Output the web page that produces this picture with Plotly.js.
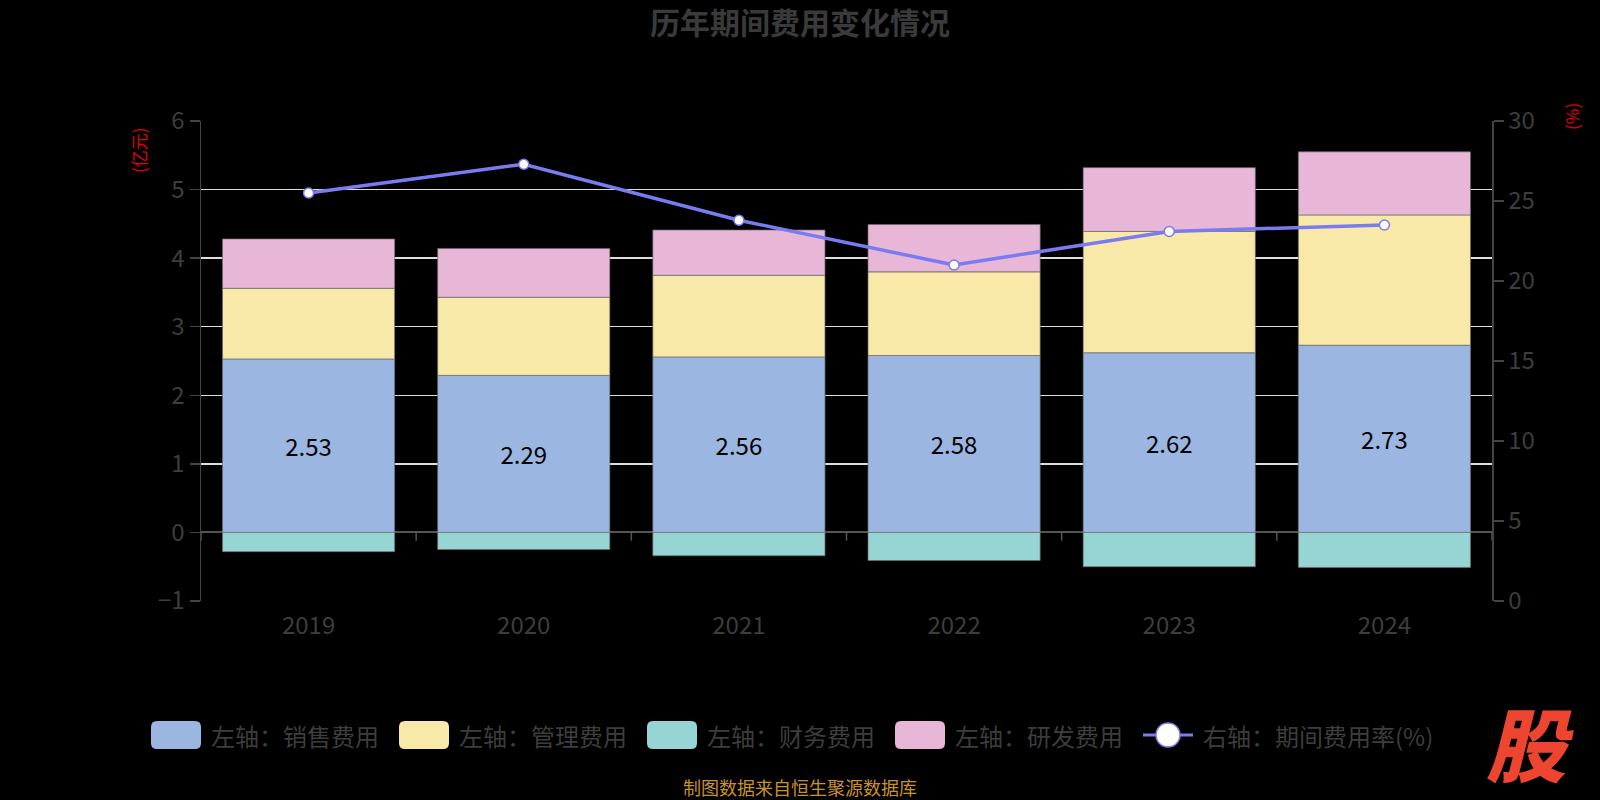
<!DOCTYPE html>
<html>
<head>
<meta charset="utf-8">
<script src="https://cdn.plot.ly/plotly-3.0.1.min.js"></script>
<style>html,body{margin:0;padding:0;background:#000;}#chart{width:1600px;height:800px;}</style>
</head>
<body>
<div id="chart"></div>
<script>
// ---- data ----
const years = ['2019', '2020', '2021', '2022', '2023', '2024'];
const salesExp = [2.53, 2.29, 2.56, 2.58, 2.62, 2.73];
const adminExp = [1.03, 1.14, 1.19, 1.22, 1.77, 1.90];
const financeExp = [-0.28, -0.25, -0.34, -0.41, -0.50, -0.51];
const rdExp = [0.72, 0.71, 0.66, 0.69, 0.93, 0.92];
const expenseRate = [25.5, 27.3, 23.8, 21.0, 23.1, 23.5];
const seriesNames = ['左轴：销售费用', '左轴：管理费用', '左轴：财务费用', '左轴：研发费用', '右轴：期间费用率(%)'];
const leftTicks = [-1, 0, 1, 2, 3, 4, 5, 6];
const rightTicks = [0, 5, 10, 15, 20, 25, 30];

// ---- styles ----
const FONT = '"Noto Sans CJK SC", "Noto Sans", sans-serif';
const colors = ['#9bb7e1', '#f9e9a8', '#97d4d4', '#e8b7d8'];
const lineColor = '#787cf0';
const tickColor = '#3d3d3d';
const barLine = {width: 1, color: 'rgba(110,110,110,0.7)'};

const L = 201, R = 1492, T = 121, B = 601;
const W = R - L, H = B - T;
const px2x = p => (p - L) / W;
const px2y = p => (B - p) / H;

const traces = [
  {type: 'bar', x: years, y: salesExp, name: seriesNames[0], marker: {color: colors[0], line: barLine},
   texttemplate: '%{y:.2f}', textposition: 'inside', insidetextanchor: 'middle', constraintext: 'none',
   textfont: {size: 24, color: '#000', family: FONT}, hoverinfo: 'y'},
  {type: 'bar', x: years, y: adminExp, name: seriesNames[1], marker: {color: colors[1], line: barLine}, textposition: 'none'},
  {type: 'bar', x: years, y: financeExp, name: seriesNames[2], marker: {color: colors[2], line: barLine}, textposition: 'none'},
  {type: 'bar', x: years, y: rdExp, name: seriesNames[3], marker: {color: colors[3], line: barLine}, textposition: 'none'},
  {type: 'scatter', mode: 'lines+markers', x: years, y: expenseRate, name: seriesNames[4], yaxis: 'y2',
   line: {color: lineColor, width: 3.5}, marker: {size: 10, color: '#fff', line: {color: lineColor, width: 1.5}}}
];

// ---- legend drawn as shapes + annotations ----
const shapes = [];
const annotations = [];
function rrect(x0, y0, x1, y1, r, fill) {
  const a = px2x(x0), b = px2x(x1), top = px2y(y0), bot = px2y(y1);
  const rx = r / W, ry = r / H;
  const p = `M ${a + rx},${bot} L ${b - rx},${bot} Q ${b},${bot} ${b},${bot + ry} L ${b},${top - ry} Q ${b},${top} ${b - rx},${top} L ${a + rx},${top} Q ${a},${top} ${a},${top - ry} L ${a},${bot + ry} Q ${a},${bot} ${a + rx},${bot} Z`;
  return {type: 'path', xref: 'paper', yref: 'paper', path: p, fillcolor: fill, line: {width: 0}};
}
const legY = 735;
seriesNames.forEach((nm, i) => {
  const x0 = 151 + i * 248;
  if (i < 4) {
    shapes.push(rrect(x0, legY - 14, x0 + 50, legY + 14, 6, colors[i]));
  } else {
    shapes.push({type: 'line', xref: 'paper', yref: 'paper', x0: px2x(x0), x1: px2x(x0 + 50), y0: px2y(legY), y1: px2y(legY), line: {color: lineColor, width: 3}});
    shapes.push({type: 'circle', xref: 'paper', yref: 'paper', x0: px2x(x0 + 13), x1: px2x(x0 + 37), y0: px2y(legY + 12), y1: px2y(legY - 12), fillcolor: '#fff', line: {color: lineColor, width: 1.5}});
  }
  annotations.push({xref: 'paper', yref: 'paper', x: px2x(x0 + 58), y: px2y(legY), xanchor: 'left', yanchor: 'middle',
    text: nm, showarrow: false, font: {size: 24, color: tickColor, family: FONT}});
});

// category boundary ticks on the zero line
for (let i = 0; i <= years.length; i++) {
  shapes.push({type: 'line', xref: 'x', yref: 'y', x0: i - 0.5, x1: i - 0.5, y0: 0, y1: -0.12, line: {color: '#555', width: 1.5}, layer: 'below'});
}

// axis names
annotations.push({xref: 'paper', yref: 'paper', x: px2x(138), y: px2y(150), text: '(亿元)', textangle: -90, showarrow: false,
  xanchor: 'center', yanchor: 'middle', font: {size: 17, color: '#e00000', family: FONT}});
annotations.push({xref: 'paper', yref: 'paper', x: px2x(1571), y: px2y(117), text: '(%)', textangle: -90, showarrow: false,
  xanchor: 'center', yanchor: 'middle', font: {size: 17, color: '#e00000', family: FONT}});
// footer
annotations.push({xref: 'paper', yref: 'paper', x: px2x(800), y: px2y(787), text: '制图数据来自恒生聚源数据库', showarrow: false,
  xanchor: 'center', yanchor: 'middle', font: {size: 18, color: '#c8922a', family: FONT}});
// logo
annotations.push({xref: 'paper', yref: 'paper', x: px2x(1530), y: px2y(741), text: '股', showarrow: false,
  xanchor: 'center', yanchor: 'middle', font: {size: 80, color: '#ee4530', family: FONT, weight: 900, style: 'italic'}});

const layout = {
  width: 1600, height: 800,
  paper_bgcolor: '#000', plot_bgcolor: '#000',
  margin: {l: L, r: 1600 - R, t: T, b: 800 - B, pad: 0},
  showlegend: false,
  barmode: 'relative', bargap: 0.2,
  title: {text: '历年期间费用变化情况', x: 0.5, xanchor: 'center', xref: 'container', y: 1 - 23 / 800, yref: 'container', yanchor: 'middle',
    font: {size: 30, color: '#3a3a3a', family: FONT, weight: 'bold'}},
  font: {family: FONT, color: tickColor},
  xaxis: {type: 'category', showgrid: false, zeroline: false, showline: false, ticks: '', ticklabelstandoff: 8,
    tickfont: {size: 24, color: tickColor, family: FONT}, range: [-0.5, years.length - 0.5]},
  yaxis: {range: [-1, 6], tickvals: leftTicks, showgrid: true, gridcolor: '#dedede', gridwidth: 1.5,
    zeroline: true, zerolinecolor: '#555', zerolinewidth: 2,
    showline: true, linecolor: '#444', linewidth: 1.5, ticks: 'outside', ticklen: 10, tickcolor: '#444', tickwidth: 1.5,
    tickfont: {size: 24, color: tickColor, family: FONT}},
  yaxis2: {overlaying: 'y', side: 'right', range: [0, 30], tickvals: rightTicks, showgrid: false, zeroline: false,
    showline: true, linecolor: '#444', linewidth: 1.5, ticks: 'outside', ticklen: 10, tickcolor: '#444', tickwidth: 1.5,
    tickfont: {size: 24, color: tickColor, family: FONT}},
  shapes: shapes,
  annotations: annotations
};

Plotly.newPlot('chart', traces, layout, {displayModeBar: false, staticPlot: true});
</script>
</body>
</html>
